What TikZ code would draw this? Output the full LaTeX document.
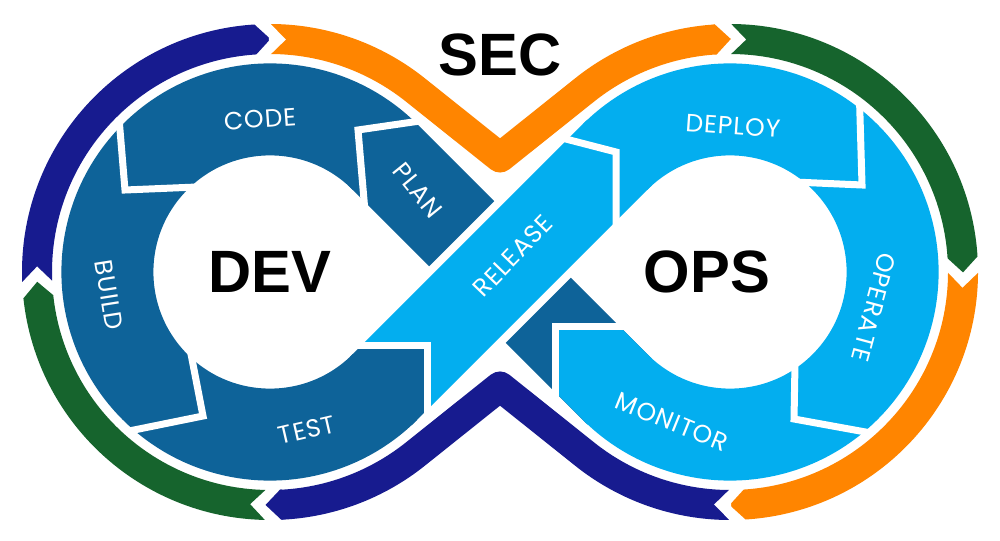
\documentclass[tikz,border=0pt]{standalone}
\usepackage{fontspec}
\setmainfont{Liberation Sans}
\newfontfamily\stagefont[LetterSpace=4]{Poppins}
\usetikzlibrary{calc}
\definecolor{devblue}{RGB}{14,99,153}
\definecolor{opsblue}{RGB}{3,174,239}
\definecolor{secnavy}{RGB}{23,27,143}
\definecolor{secorange}{RGB}{255,133,0}
\definecolor{secgreen}{RGB}{22,100,45}

\begin{document}
\begin{tikzpicture}[band/.style={line width=9.2mm},
                    ring/.style={line width=3mm, line join=round},
                    cut/.style={draw=white, line width=0.7mm, line join=miter},
                    stage/.style={text=white, inner sep=0pt, font=\stagefont\fontsize{7.1}{8}\selectfont},
                    loopname/.style={inner sep=0pt, font=\bfseries\fontsize{17}{19}\selectfont}]
                    \useasboundingbox (0,0) rectangle (10,5.4);
                    \fill[white] (0,0) rectangle (10,5.4);
                    \coordinate (CL) at (2.70,2.68);
                    \coordinate (CR) at (7.30,2.68);
                    % inner band
                    \draw[band, devblue] ([shift={(CL)}]45:1.626) arc[start angle=45, end angle=315, radius=1.626];
                    \draw[band, devblue] (3.81,3.87) -- (6.19,1.49);
                    \draw[band, opsblue] ([shift={(CR)}]135:1.626) arc[start angle=135, end angle=-135, radius=1.626];
                    \draw[band, white, line width=10.8mm] (4.434,2.114) -- (5.566,3.246);
                    \draw[band, opsblue] (3.945,1.625) -- (6.19,3.87);
                    \fill[devblue] ([shift={(CL)}]313:2.086) -- (4.27,1.30) -- (4.27,1.95) -- (3.62,1.95) -- ([shift={(CL)}]313:1.166) -- cycle;
                    \fill[opsblue] ([shift={(CR)}]227:2.086) -- (5.55,1.48) -- (5.55,2.13) -- (6.20,2.13) -- ([shift={(CR)}]227:1.166) -- cycle;
                    \foreach \t/\o/\i in {{3.58,4.10}/{4.20,4.19}/{3.64,3.40}, {1.25,3.50}/{1.20,4.10}/{1.97,3.53},
                                          {2.03,1.24}/{1.34,1.10}/{1.91,1.86}, {4.27,1.95}/{4.27,1.30}/{3.62,1.95},
                                          {6.16,3.88}/{5.58,4.03}/{6.16,3.25}, {8.62,3.55}/{8.60,4.23}/{7.94,3.58},
                                          {7.94,1.21}/{8.60,1.09}/{7.95,1.77}, {5.55,2.13}/{5.55,1.48}/{6.20,2.13}}
                        \draw[cut] ($(\t)!1.2!(\o)$) -- (\t) -- ($(\t)!1.2!(\i)$);
                    % outer ring
                    \fill[secgreen] ([shift={(CL)}]268.8:2.48) arc[start angle=268.8, end angle=186.1, radius=2.48] -- ([shift={(CL)}]182.4:2.33)
                        -- ([shift={(CL)}]186.1:2.18) arc[start angle=186.1, end angle=268.8, radius=2.18] -- ([shift={(CL)}]265.1:2.33) -- cycle;
                    \fill[secnavy] ([shift={(CL)}]182.3:2.48) arc[start angle=182.3, end angle=93.6, radius=2.48] -- ([shift={(CL)}]89.9:2.33)
                        -- ([shift={(CL)}]93.6:2.18) arc[start angle=93.6, end angle=182.3, radius=2.18] -- ([shift={(CL)}]178.6:2.33) -- cycle;
                    \fill[secgreen] ([shift={(CR)}]89.7:2.48) arc[start angle=89.7, end angle=3.6, radius=2.48] -- ([shift={(CR)}]-0.1:2.33)
                        -- ([shift={(CR)}]3.6:2.18) arc[start angle=3.6, end angle=89.7, radius=2.18] -- ([shift={(CR)}]86.0:2.33) -- cycle;
                    \fill[secorange] ([shift={(CR)}]-0.2:2.48) arc[start angle=-0.2, end angle=-86.4, radius=2.48] -- ([shift={(CR)}]-90.1:2.33)
                        -- ([shift={(CR)}]-86.4:2.18) arc[start angle=-86.4, end angle=-0.2, radius=2.18] -- ([shift={(CR)}]-3.9:2.33) -- cycle;
                    \draw[ring, secorange] ([shift={(CL)}]89.8:2.33) arc[start angle=89.8, end angle=51.4, radius=2.33] -- (5.00,3.825)
                        -- ([shift={(CR)}]128.6:2.33) arc[start angle=128.6, end angle=93.5, radius=2.33];
                    \fill[white] ([shift={(CL)}]90.3:2.50) -- ([shift={(CL)}]86.1:2.33) -- ([shift={(CL)}]90.3:2.16) -- cycle;
                    \fill[secorange] ([shift={(CR)}]94.0:2.48) -- ([shift={(CR)}]93.5:2.48) -- ([shift={(CR)}]89.8:2.33)
                        -- ([shift={(CR)}]93.5:2.18) -- ([shift={(CR)}]94.0:2.18) -- cycle;
                    \draw[ring, secnavy] ([shift={(CR)}]-90.2:2.33) arc[start angle=-90.2, end angle=-128.6, radius=2.33] -- (5.00,1.535)
                        -- ([shift={(CL)}]-51.4:2.33) arc[start angle=-51.4, end angle=-87.4, radius=2.33];
                    \fill[white] ([shift={(CR)}]-89.7:2.50) -- ([shift={(CR)}]-93.9:2.33) -- ([shift={(CR)}]-89.7:2.16) -- cycle;
                    \fill[secnavy] ([shift={(CL)}]-86.9:2.48) -- ([shift={(CL)}]-87.4:2.48) -- ([shift={(CL)}]-91.1:2.33)
                        -- ([shift={(CL)}]-87.4:2.18) -- ([shift={(CL)}]-86.9:2.18) -- cycle;
                    % labels
                    \node[loopname] (sec) at (5.00,4.85) {SEC};
                    \node[loopname] (dev) at (2.70,2.68) {DEV};
                    \node[loopname] (ops) at (7.07,2.68) {OPS};
                    \node[stage, rotate=4] (code) at (2.60,4.21) {CODE};
                    \node[stage, rotate=-51] (plan) at (4.18,3.50) {PLAN};
                    \node[stage, rotate=-81] (build) at (1.09,2.45) {BUILD};
                    \node[stage, rotate=13] (test) at (3.07,1.10) {TEST};
                    \node[stage, rotate=46] (release) at (5.13,2.84) {RELEASE};
                    \node[stage, rotate=-4] (deploy) at (7.33,4.14) {DEPLOY};
                    \node[stage, rotate=-105] (operate) at (8.74,2.33) {OPERATE};
                    \node[stage, rotate=-22] (monitor) at (6.72,1.18) {MONITOR};
                \end{tikzpicture}
\end{document}
